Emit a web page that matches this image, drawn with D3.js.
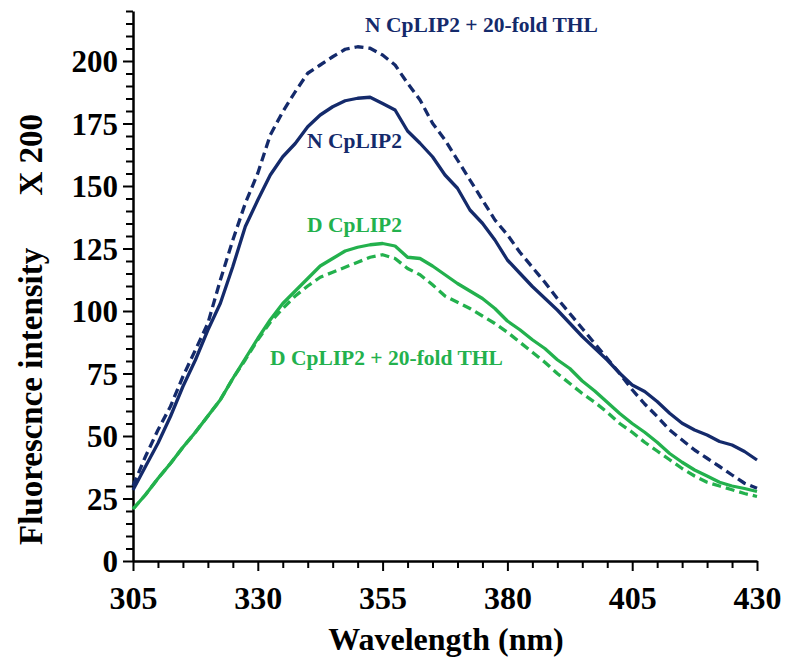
<!DOCTYPE html>
<html>
<head>
<meta charset="utf-8">
<script src="https://cdn.jsdelivr.net/npm/d3@7/dist/d3.min.js"></script>
<style>
  html, body { margin: 0; padding: 0; background: #fff; }
  svg { display: block; }
  text { font-family: "Liberation Serif", "Times New Roman", serif; font-weight: bold; }
</style>
</head>
<body>
<svg id="chart" width="786" height="662"></svg>
<script>
// ---- data ----
const wavelengths = [305, 307.5, 310, 312.5, 315, 317.5, 320, 322.5, 325, 327.5,
  330, 332.5, 335, 337.5, 340, 342.5, 345, 347.5, 350, 352.5,
  355, 357.5, 360, 362.5, 365, 367.5, 370, 372.5, 375, 377.5,
  380, 382.5, 385, 387.5, 390, 392.5, 395, 397.5, 400, 402.5,
  405, 407.5, 410, 412.5, 415, 417.5, 420, 422.5, 425, 427.5, 430];

const nCpLIP2 = [28.4, 37.8, 47.1, 57.8, 69.8, 80.4, 92.4, 103.1, 117.8, 133.8,
  144.4, 154.4, 161.7, 167, 173.7, 178.4, 181.7, 184.1, 185.1, 185.5,
  183, 180.4, 172, 167.1, 161.7, 154.4, 149.1, 140.4, 135.1, 128.4,
  120.4, 115.1, 109.8, 105.1, 100.4, 95.1, 89.8, 85.1, 80.4, 75.1,
  70.4, 67.8, 63.8, 59.1, 55.1, 52.4, 50.4, 47.8, 46.4, 43.8, 40.4];

const nCpLIP2THL = [30, 41.8, 52.4, 61.8, 73.8, 84.4, 95.1, 112.4, 128.4, 143.1,
  155.1, 170.4, 179.7, 187.7, 195.1, 198.4, 201.7, 204.7, 205.7, 205.1,
  202.4, 198.4, 191.1, 184.4, 175.1, 168.4, 160.4, 152.4, 144.4, 136.4,
  130.5, 123.5, 117.5, 111.5, 105, 99, 93, 87, 81, 75,
  68.5, 62.8, 57.8, 52.4, 48.4, 44.4, 41.1, 37.8, 34.4, 31.1, 29.1];

const dCpLIP2 = [20.8, 26.5, 33, 39, 45.5, 51.5, 58, 64.5, 73, 81,
  89, 96.5, 103, 108, 113, 118, 121, 124, 125.5, 126.5,
  127, 126, 121.5, 121, 118, 114.5, 111, 108, 105, 101,
  96, 92.5, 88.5, 85, 80.5, 77, 72, 68, 63.5, 59,
  55, 51.5, 47.5, 43, 39.5, 36.4, 34, 31.5, 30, 29, 27.8];

const dCpLIP2THL = [20.8, 26.5, 33, 39, 45.5, 51.5, 58, 64.5, 73, 80.5,
  88.5, 95.5, 101, 106, 110, 113.5, 115.5, 117.5, 119.5, 121.5,
  122.5, 121, 117, 114.5, 110.5, 106, 103.5, 101, 98, 95,
  91.5, 87.5, 83.5, 79.5, 75, 71, 67, 63.5, 59.5, 55,
  51.5, 47.5, 44, 40.5, 37, 34, 31.5, 30, 28.5, 27, 25.8];

const seriesNames = ["N CpLIP2", "N CpLIP2 + 20-fold THL", "D CpLIP2", "D CpLIP2 + 20-fold THL"];
const seriesColors = ["#142a6b", "#142a6b", "#23b14d", "#23b14d"];
const seriesDashed = [false, true, false, true];

const xTickLabels = [305, 330, 355, 380, 405, 430];
const yTickLabels = [0, 25, 50, 75, 100, 125, 150, 175, 200];

const xTitle = "Wavelength (nm)";
const yTitle = "Fluorescnce intensity";
const yTitle2 = "X 200";

// ---- drawing ----
const svg = d3.select("#chart");
const x = d3.scaleLinear().domain([305, 430]).range([133, 757]);
const y = d3.scaleLinear().domain([0, 220]).range([561, 11]);

const allSeries = [nCpLIP2, nCpLIP2THL, dCpLIP2, dCpLIP2THL];

// axes
const xMinor = d3.range(305, 431, 5);
const yMinor = d3.range(0, 221, 5);

const xAxis = d3.axisBottom(x)
  .tickValues(xMinor)
  .tickSizeOuter(0)
  .tickFormat(d => xTickLabels.includes(d) ? d : "");
const gx = svg.append("g").attr("transform", `translate(0,${y(0)})`).call(xAxis);
gx.select(".domain").attr("stroke", "#000").attr("stroke-width", 2.5);
gx.selectAll(".tick line")
  .attr("stroke", "#000").attr("stroke-width", 2)
  .attr("y2", d => xTickLabels.includes(d) ? 10 : 7);
gx.selectAll(".tick text")
  .attr("y", 48)
  .attr("dy", 0)
  .style("font-size", "32px")
  .style("font-family", "'Liberation Serif', serif")
  .style("font-weight", "bold")
  .attr("fill", "#000");

const yAxis = d3.axisLeft(y)
  .tickValues(yMinor)
  .tickSizeOuter(0)
  .tickFormat(d => yTickLabels.includes(d) ? d : "");
const gy = svg.append("g").attr("transform", `translate(${x(305)},0)`).call(yAxis);
gy.select(".domain").attr("stroke", "#000").attr("stroke-width", 2.5);
gy.selectAll(".tick line")
  .attr("stroke", "#000").attr("stroke-width", 2)
  .attr("x2", d => yTickLabels.includes(d) ? -10 : -7);
gy.selectAll(".tick text")
  .attr("x", -15)
  .attr("dy", "0.34em")
  .style("font-size", "31px")
  .style("font-family", "'Liberation Serif', serif")
  .style("font-weight", "bold")
  .attr("fill", "#000");

// lines
const line = d3.line()
  .x((d, i) => x(wavelengths[i]))
  .y(d => y(d));

allSeries.forEach((s, k) => {
  svg.append("path")
    .datum(s)
    .attr("fill", "none")
    .attr("stroke", seriesColors[k])
    .attr("stroke-width", 3.3)
    .attr("stroke-linejoin", "round")
    .attr("stroke-dasharray", seriesDashed[k] ? "9,5" : null)
    .attr("d", line);
});

// annotations
const annot = [
  { name: seriesNames[1], color: seriesColors[1], px: 365, py: 32 },
  { name: seriesNames[0], color: seriesColors[0], px: 307, py: 148 },
  { name: seriesNames[2], color: seriesColors[2], px: 307, py: 232 },
  { name: seriesNames[3], color: seriesColors[3], px: 270, py: 365 }
];
svg.selectAll(".annot").data(annot).enter().append("text")
  .attr("class", "annot")
  .attr("x", d => d.px)
  .attr("y", d => d.py)
  .attr("fill", d => d.color)
  .style("font-size", "21.5px")
  .text(d => d.name);

// axis titles
svg.append("text")
  .attr("x", 446)
  .attr("y", 650)
  .attr("text-anchor", "middle")
  .style("font-size", "32px")
  .attr("fill", "#000")
  .text(xTitle);

svg.append("text")
  .attr("transform", "translate(42,545) rotate(-90)")
  .attr("text-anchor", "start")
  .style("font-size", "33px")
  .attr("fill", "#000")
  .text(yTitle);

svg.append("text")
  .attr("transform", "translate(42,114) rotate(-90)")
  .attr("text-anchor", "end")
  .style("font-size", "33px")
  .attr("fill", "#000")
  .text(yTitle2);
</script>
</body>
</html>
